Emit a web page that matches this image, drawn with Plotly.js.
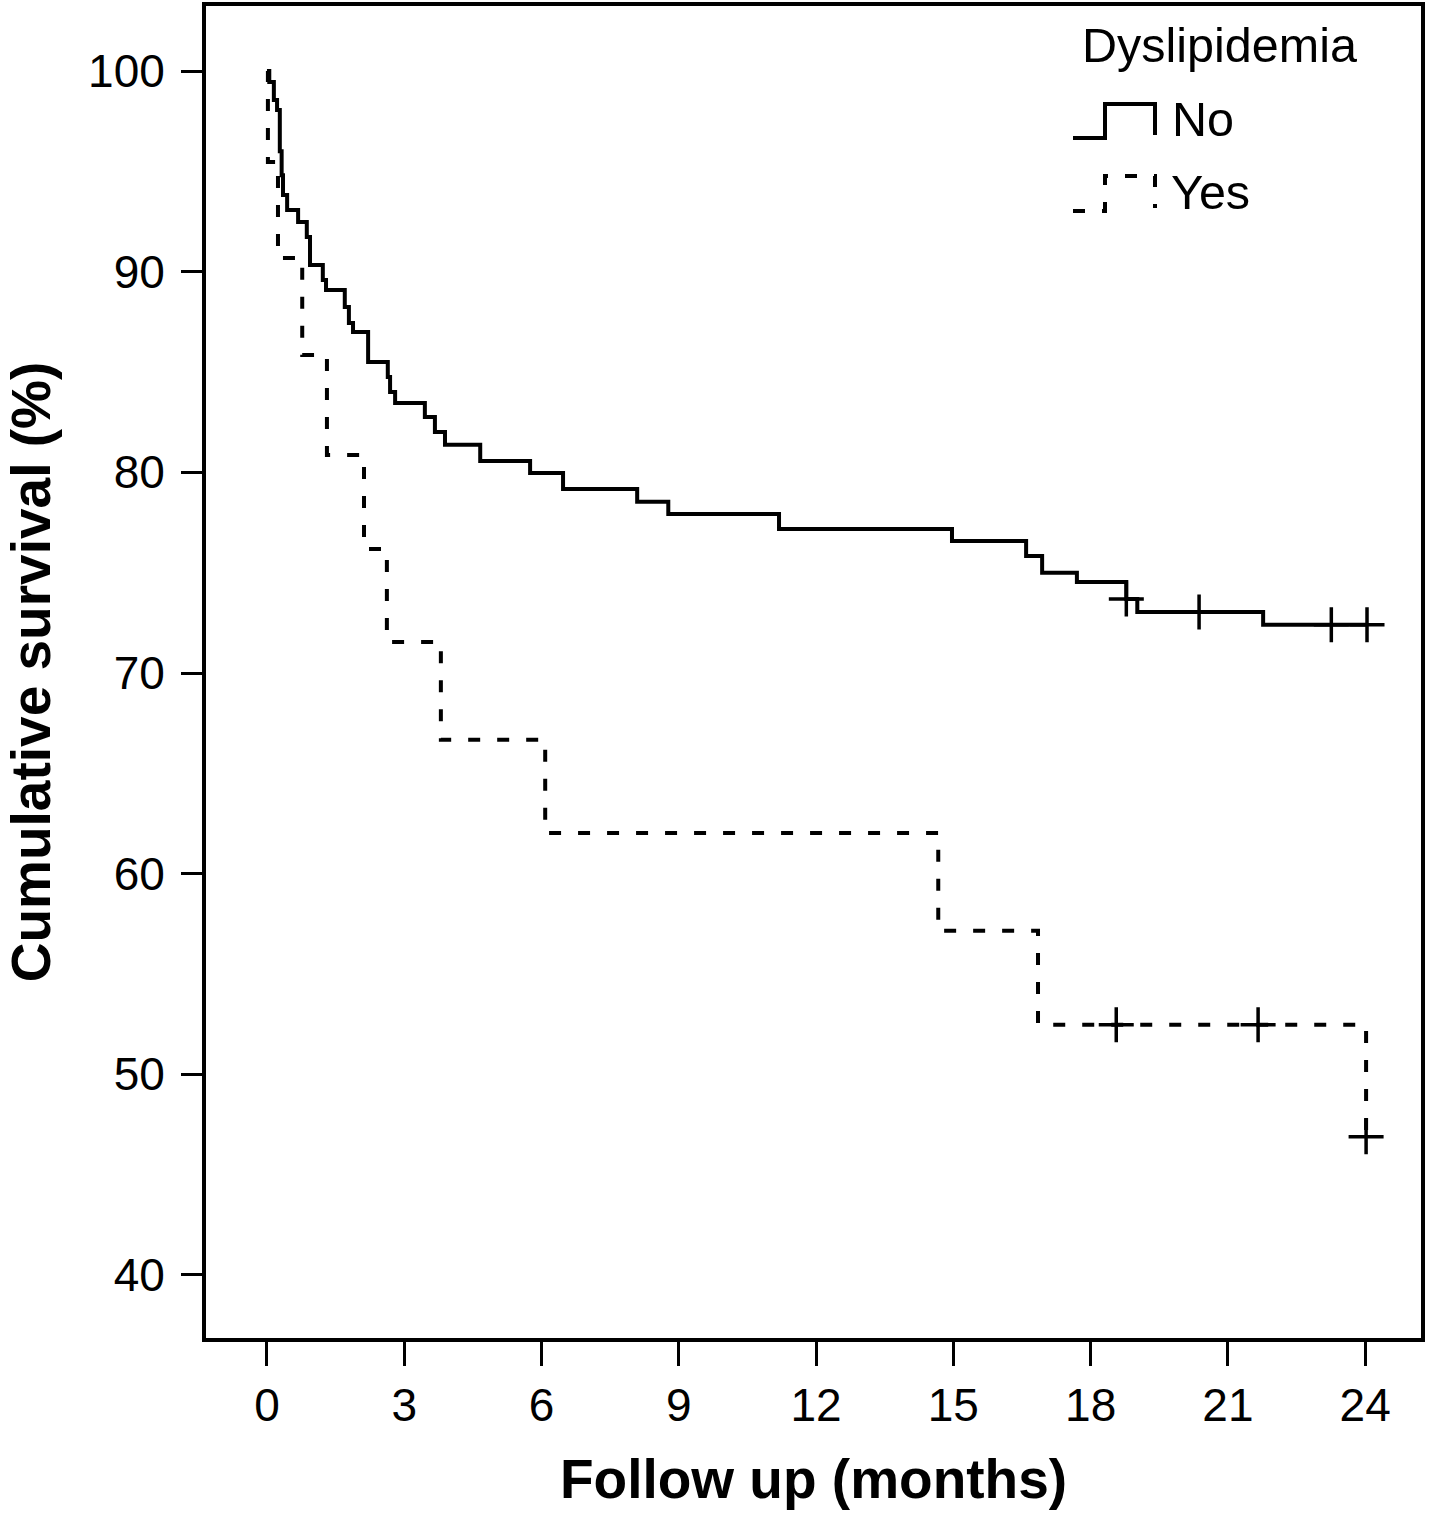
<!DOCTYPE html>
<html>
<head>
<meta charset="utf-8">
<script src="https://cdn.plot.ly/plotly-3.0.1.min.js"></script>
<style>
  html, body { margin: 0; padding: 0; background: #fff; }
  #chart { width: 1431px; height: 1521px; }
</style>
</head>
<body>
<div id="chart"></div>
<script>
/* Kaplan-Meier: cumulative survival by dyslipidemia, 24 months follow-up */

// "No" group: time of each drop (months) and survival after it (%)
var noTime = [0, 0.05, 0.15, 0.22, 0.28, 0.32, 0.35, 0.44, 0.68, 0.87, 0.94, 1.22, 1.29, 1.70, 1.79, 1.88,
              2.21, 2.64, 2.69, 2.80, 3.45, 3.67, 3.89, 4.66, 5.75, 6.47, 8.09, 8.77, 11.19, 14.97,
              16.59, 16.94, 17.70, 18.78, 19.02, 21.77, 24.04];
var noSurv = [100, 99.45, 98.56, 98.06, 96.0, 94.8, 93.82, 93.07, 92.48, 91.73, 90.33, 89.59, 89.09, 88.24, 87.44, 87.0,
              85.5, 84.75, 84.0, 83.46, 82.76, 82.01, 81.37, 80.57, 79.97, 79.17, 78.53, 77.93, 77.18, 76.58,
              75.83, 74.99, 74.54, 73.69, 73.04, 72.40, 72.40];
var noCensTime = [18.78, 20.37, 23.26, 24.04];
var noCensSurv = [73.69, 73.04, 72.40, 72.40];

// "Yes" group
var yesTime = [0, 0.02, 0.24, 0.77, 1.31, 2.12, 2.62, 3.80, 6.08, 14.67, 16.85, 24.02];
var yesSurv = [100, 95.47, 90.68, 85.85, 80.87, 76.18, 71.55, 66.67, 62.03, 57.15, 52.47, 46.89];
var yesCensTime = [18.56, 21.66, 24.02];
var yesCensSurv = [52.47, 52.47, 46.89];

var xTicks = [0, 3, 6, 9, 12, 15, 18, 21, 24];
var yTicks = [40, 50, 60, 70, 80, 90, 100];

var legendTitle = 'Dyslipidemia';
var groupNames = ['No', 'Yes'];

var FONT = 'Liberation Sans, Arial, Helvetica, sans-serif';
var DASH = '12px,17px';

// plot frame in page pixels, used to place the hand-drawn legend
var M = { l: 206, r: 10, t: 6, b: 183 };
var W = 1431, H = 1521;
function px(x) { return (x - M.l) / (W - M.l - M.r); }
function py(y) { return (H - M.b - y) / (H - M.t - M.b); }

function stepTrace(x, y, dash) {
  return {
    type: 'scatter', mode: 'lines', x: x, y: y,
    line: { shape: 'hv', color: '#000', width: 4, dash: dash },
    hoverinfo: 'skip', showlegend: false
  };
}
function censTrace(x, y) {
  return {
    type: 'scatter', mode: 'markers', x: x, y: y,
    marker: { symbol: 'cross-thin', size: 25, color: '#000', line: { color: '#000', width: 3.5 } },
    hoverinfo: 'skip', showlegend: false, cliponaxis: false
  };
}

// legend sample shaped like a KM step
function stepPath(x0, yLow, xMid, yHigh, x1, yEnd) {
  return 'M' + px(x0) + ',' + py(yLow) + ' L' + px(xMid) + ',' + py(yLow) +
         ' L' + px(xMid) + ',' + py(yHigh) + ' L' + px(x1) + ',' + py(yHigh) +
         ' L' + px(x1) + ',' + py(yEnd);
}

var data = [
  stepTrace(noTime, noSurv, 'solid'),
  stepTrace(yesTime, yesSurv, DASH),
  censTrace(noCensTime, noCensSurv),
  censTrace(yesCensTime, yesCensSurv)
];

var axisBase = {
  showline: true, linewidth: 4, linecolor: '#000', mirror: true,
  showgrid: false, zeroline: false,
  ticks: 'outside', tickwidth: 3, tickcolor: '#000',
  tickfont: { family: FONT, size: 46, color: '#000' },
  fixedrange: true
};

var layout = {
  width: W, height: H,
  margin: M,
  paper_bgcolor: '#fff', plot_bgcolor: '#fff',
  font: { family: FONT, color: '#000' },
  showlegend: false,
  xaxis: Object.assign({}, axisBase, {
    range: [-1.333, 25.22], tickvals: xTicks, ticklen: 24,
    title: { text: 'Follow up (months)', font: { family: FONT, size: 55, color: '#000', weight: 'bold' }, standoff: 30 }
  }),
  yaxis: Object.assign({}, axisBase, {
    range: [36.86, 103.24], tickvals: yTicks, ticklen: 21, ticklabelstandoff: 7,
    title: { text: 'Cumulative survival (%)', font: { family: FONT, size: 55, color: '#000', weight: 'bold' }, standoff: 22 }
  }),
  shapes: [
    { type: 'path', xref: 'paper', yref: 'paper', path: stepPath(1073, 138, 1105, 104, 1155, 135),
      line: { color: '#000', width: 4 } },
    { type: 'path', xref: 'paper', yref: 'paper', path: stepPath(1073, 211, 1105, 176, 1155, 208),
      line: { color: '#000', width: 4, dash: DASH } }
  ],
  annotations: [
    { xref: 'paper', yref: 'paper', x: px(1080), y: py(45), xanchor: 'left', yanchor: 'middle',
      text: legendTitle, showarrow: false, font: { family: FONT, size: 48.5, color: '#000' } },
    { xref: 'paper', yref: 'paper', x: px(1170), y: py(119), xanchor: 'left', yanchor: 'middle',
      text: groupNames[0], showarrow: false, font: { family: FONT, size: 48.5, color: '#000' } },
    { xref: 'paper', yref: 'paper', x: px(1169), y: py(192), xanchor: 'left', yanchor: 'middle',
      text: groupNames[1], showarrow: false, font: { family: FONT, size: 48.5, color: '#000' } }
  ]
};

Plotly.newPlot('chart', data, layout, { staticPlot: true, displayModeBar: false });
</script>
</body>
</html>
